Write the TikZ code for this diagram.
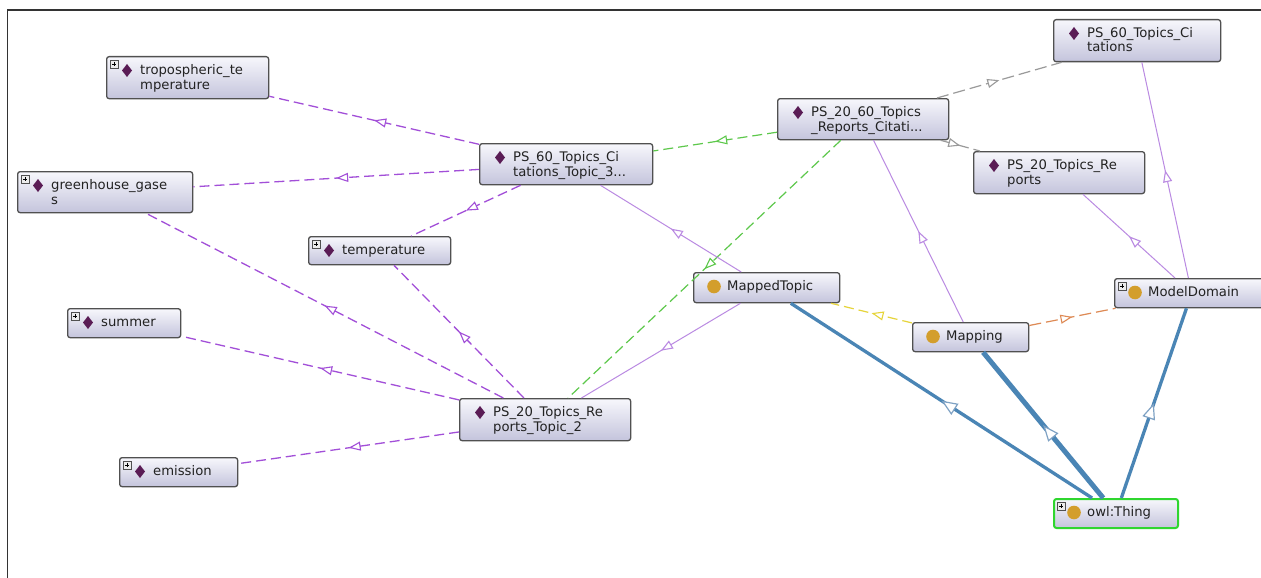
\documentclass[tikz,border=0pt]{standalone}
\usepackage{fontspec}
\setmainfont{DejaVu Sans}
\usetikzlibrary{arrows.meta,decorations.markings,calc}
\definecolor{violetline}{HTML}{A24FD8}
\definecolor{indivline}{HTML}{BA8AE2}
\definecolor{greenline}{HTML}{5DC84B}
\definecolor{grayline}{HTML}{9A9A9A}
\definecolor{yellowline}{HTML}{E6D43A}
\definecolor{orangeline}{HTML}{DE8A55}
\definecolor{blueline}{HTML}{4A85B5}
\definecolor{bluetip}{HTML}{7FA2C4}
\definecolor{boxborder}{HTML}{505050}
\definecolor{boxtop}{HTML}{F7F7FC}
\definecolor{boxbot}{HTML}{C4C4DC}
\definecolor{diacol}{HTML}{5A1C55}
\definecolor{circol}{HTML}{D39E2C}
\definecolor{owlborder}{HTML}{2FD62F}
\definecolor{txtcol}{HTML}{222222}
\definecolor{framecol}{HTML}{333333}
\tikzset{
  obox/.style={draw=boxborder, line width=1.3pt, rounded corners=2.5pt,
    top color=boxtop, bottom color=boxbot, inner sep=0pt, anchor=north west},
  otxt/.style={anchor=base west, inner sep=0pt, font=\fontsize{13.2}{15}\selectfont, text=txtcol},
  midarrow/.style={postaction={decorate},
    decoration={markings, mark=at position 0.5 with {\arrow{#1}}}},
  objprop/.style={draw=violetline, line width=1.3pt, dash pattern=on 10pt off 5pt,
    midarrow={Triangle[length=12pt,width=9pt,line width=1.1pt,fill=white]}},
  greenprop/.style={draw=greenline, line width=1.2pt, dash pattern=on 10pt off 5pt,
    midarrow={Triangle[length=12pt,width=9pt,line width=1.1pt,fill=white]}},
  grayprop/.style={draw=grayline, line width=1.2pt, dash pattern=on 12pt off 5pt,
    midarrow={Triangle[length=12pt,width=9pt,line width=1.1pt,fill=white]}},
  yellowprop/.style={draw=yellowline, line width=1.2pt, dash pattern=on 10pt off 5pt,
    midarrow={Triangle[length=12pt,width=9pt,line width=1.1pt,fill=white]}},
  orangeprop/.style={draw=orangeline, line width=1.2pt, dash pattern=on 12pt off 5pt,
    midarrow={Triangle[length=12pt,width=9pt,line width=1.1pt,fill=white]}},
  hasindiv/.style={draw=indivline, line width=1pt,
    midarrow={Triangle[length=12pt,width=9pt,line width=1.1pt,fill=white]}},
  subcls/.style={draw=blueline, line width=3.3pt,
    midarrow={Triangle[length=16pt,width=13pt,line width=1.2pt,fill=white,color=bluetip]}},
}
\newcommand\onode[5]{\node[obox, minimum width={#4-#2}, minimum height={#5-#3}] (#1) at (#2,#3) {};}
\newcommand\dia[1]{\fill[diacol] ([shift={(21,8)}]#1.north west) -- ([shift={(26,14.5)}]#1.north west)
  -- ([shift={(21,21)}]#1.north west) -- ([shift={(16,14.5)}]#1.north west) -- cycle;}
\newcommand\cir[1]{\fill[circol] ([shift={(21,14.5)}]#1.north west) circle (6.8pt);}
\newcommand\plusbox[1]{\draw[line width=0.8pt, draw=boxborder, fill=white!85!gray]
  ([shift={(4,4)}]#1.north west) rectangle ([shift={(12,12)}]#1.north west);
  \draw[line width=0.9pt, black] ([shift={(5.8,8)}]#1.north west) -- ([shift={(10.2,8)}]#1.north west)
  ([shift={(8,5.8)}]#1.north west) -- ([shift={(8,10.2)}]#1.north west);}
\newcommand\lineone[2]{\node[otxt] (#1-ta) at ([shift={(34,18.7)}]#1.north west) {#2};}
\newcommand\linetwo[2]{\node[otxt] (#1-tb) at ([shift={(34,33)}]#1.north west) {#2};}
\begin{document}
\begin{tikzpicture}[x=1pt,y=-1pt]
\useasboundingbox (0,0) rectangle (1261,578);
\clip (0,0) rectangle (1261,578);
\fill[white] (0,0) rectangle (1261,578);
% frame
\draw[framecol, line width=1.3pt] (7.3,578) -- (7.3,10) -- (1261,10);
% boxes
\onode{trop}{106}{56}{268}{98}
\onode{green}{17}{171}{192}{212}
\onode{pt3}{479}{143}{652}{184}
\onode{temp}{308}{236}{450}{264}
\onode{summer}{67}{308}{180}{337}
\onode{emis}{119}{457}{237}{486}
\onode{pt2}{459}{398}{630}{440}
\onode{mapped}{693}{272}{839}{302}
\onode{p2060}{777}{98}{948}{139}
\onode{p60cit}{1053}{19}{1220}{61}
\onode{p20rep}{973}{151}{1144}{193}
\onode{mapping}{912}{322}{1028}{351}
\onode{model}{1114}{278}{1268}{307}
\node[obox, draw=owlborder, line width=2pt, minimum width=124, minimum height=29] (owl) at (1053,498) {};
% edges
\draw[objprop] (pt3) -- (trop);
\draw[objprop] (pt3) -- (green);
\draw[objprop] (pt3) -- (temp);
\draw[objprop] (pt2) -- (green);
\draw[objprop] (pt2) -- (temp);
\draw[objprop] (pt2) -- (summer);
\draw[objprop] (pt2) -- (emis);
\draw[greenprop] (p2060) -- (pt3);
\draw[greenprop] (p2060) -- (pt2);
\draw[grayprop] (p2060) -- (p60cit);
\draw[grayprop] (p2060) -- (p20rep);
\draw[hasindiv] (mapping) -- (p2060);
\draw[hasindiv] (mapped) -- (pt3);
\draw[hasindiv] (mapped) -- (pt2);
\draw[hasindiv] (model) -- (p20rep);
\draw[hasindiv] (model) -- (p60cit);
\draw[yellowprop] (mapping) -- (mapped);
\draw[orangeprop] (mapping) -- (model);
\draw[subcls] (owl) -- (mapped);
\draw[subcls, line width=5pt] (owl) -- (mapping);
\draw[subcls] (owl) -- (model);
% icons and labels
\plusbox{trop}\dia{trop}\lineone{trop}{tropospheric\_te}\linetwo{trop}{mperature}
\plusbox{green}\dia{green}\lineone{green}{greenhouse\_gase}\linetwo{green}{s}
\dia{pt3}\lineone{pt3}{PS\_60\_Topics\_Ci}\linetwo{pt3}{tations\_Topic\_3...}
\plusbox{temp}\dia{temp}\lineone{temp}{temperature}
\plusbox{summer}\dia{summer}\lineone{summer}{summer}
\plusbox{emis}\dia{emis}\lineone{emis}{emission}
\dia{pt2}\lineone{pt2}{PS\_20\_Topics\_Re}\linetwo{pt2}{ports\_Topic\_2}
\cir{mapped}\lineone{mapped}{MappedTopic}
\dia{p2060}\lineone{p2060}{PS\_20\_60\_Topics}\linetwo{p2060}{\_Reports\_Citati...}
\dia{p60cit}\lineone{p60cit}{PS\_60\_Topics\_Ci}\linetwo{p60cit}{tations}
\dia{p20rep}\lineone{p20rep}{PS\_20\_Topics\_Re}\linetwo{p20rep}{ports}
\cir{mapping}\lineone{mapping}{Mapping}
\plusbox{model}\cir{model}\lineone{model}{ModelDomain}
\plusbox{owl}\cir{owl}\lineone{owl}{owl:Thing}
\end{tikzpicture}
\end{document}
